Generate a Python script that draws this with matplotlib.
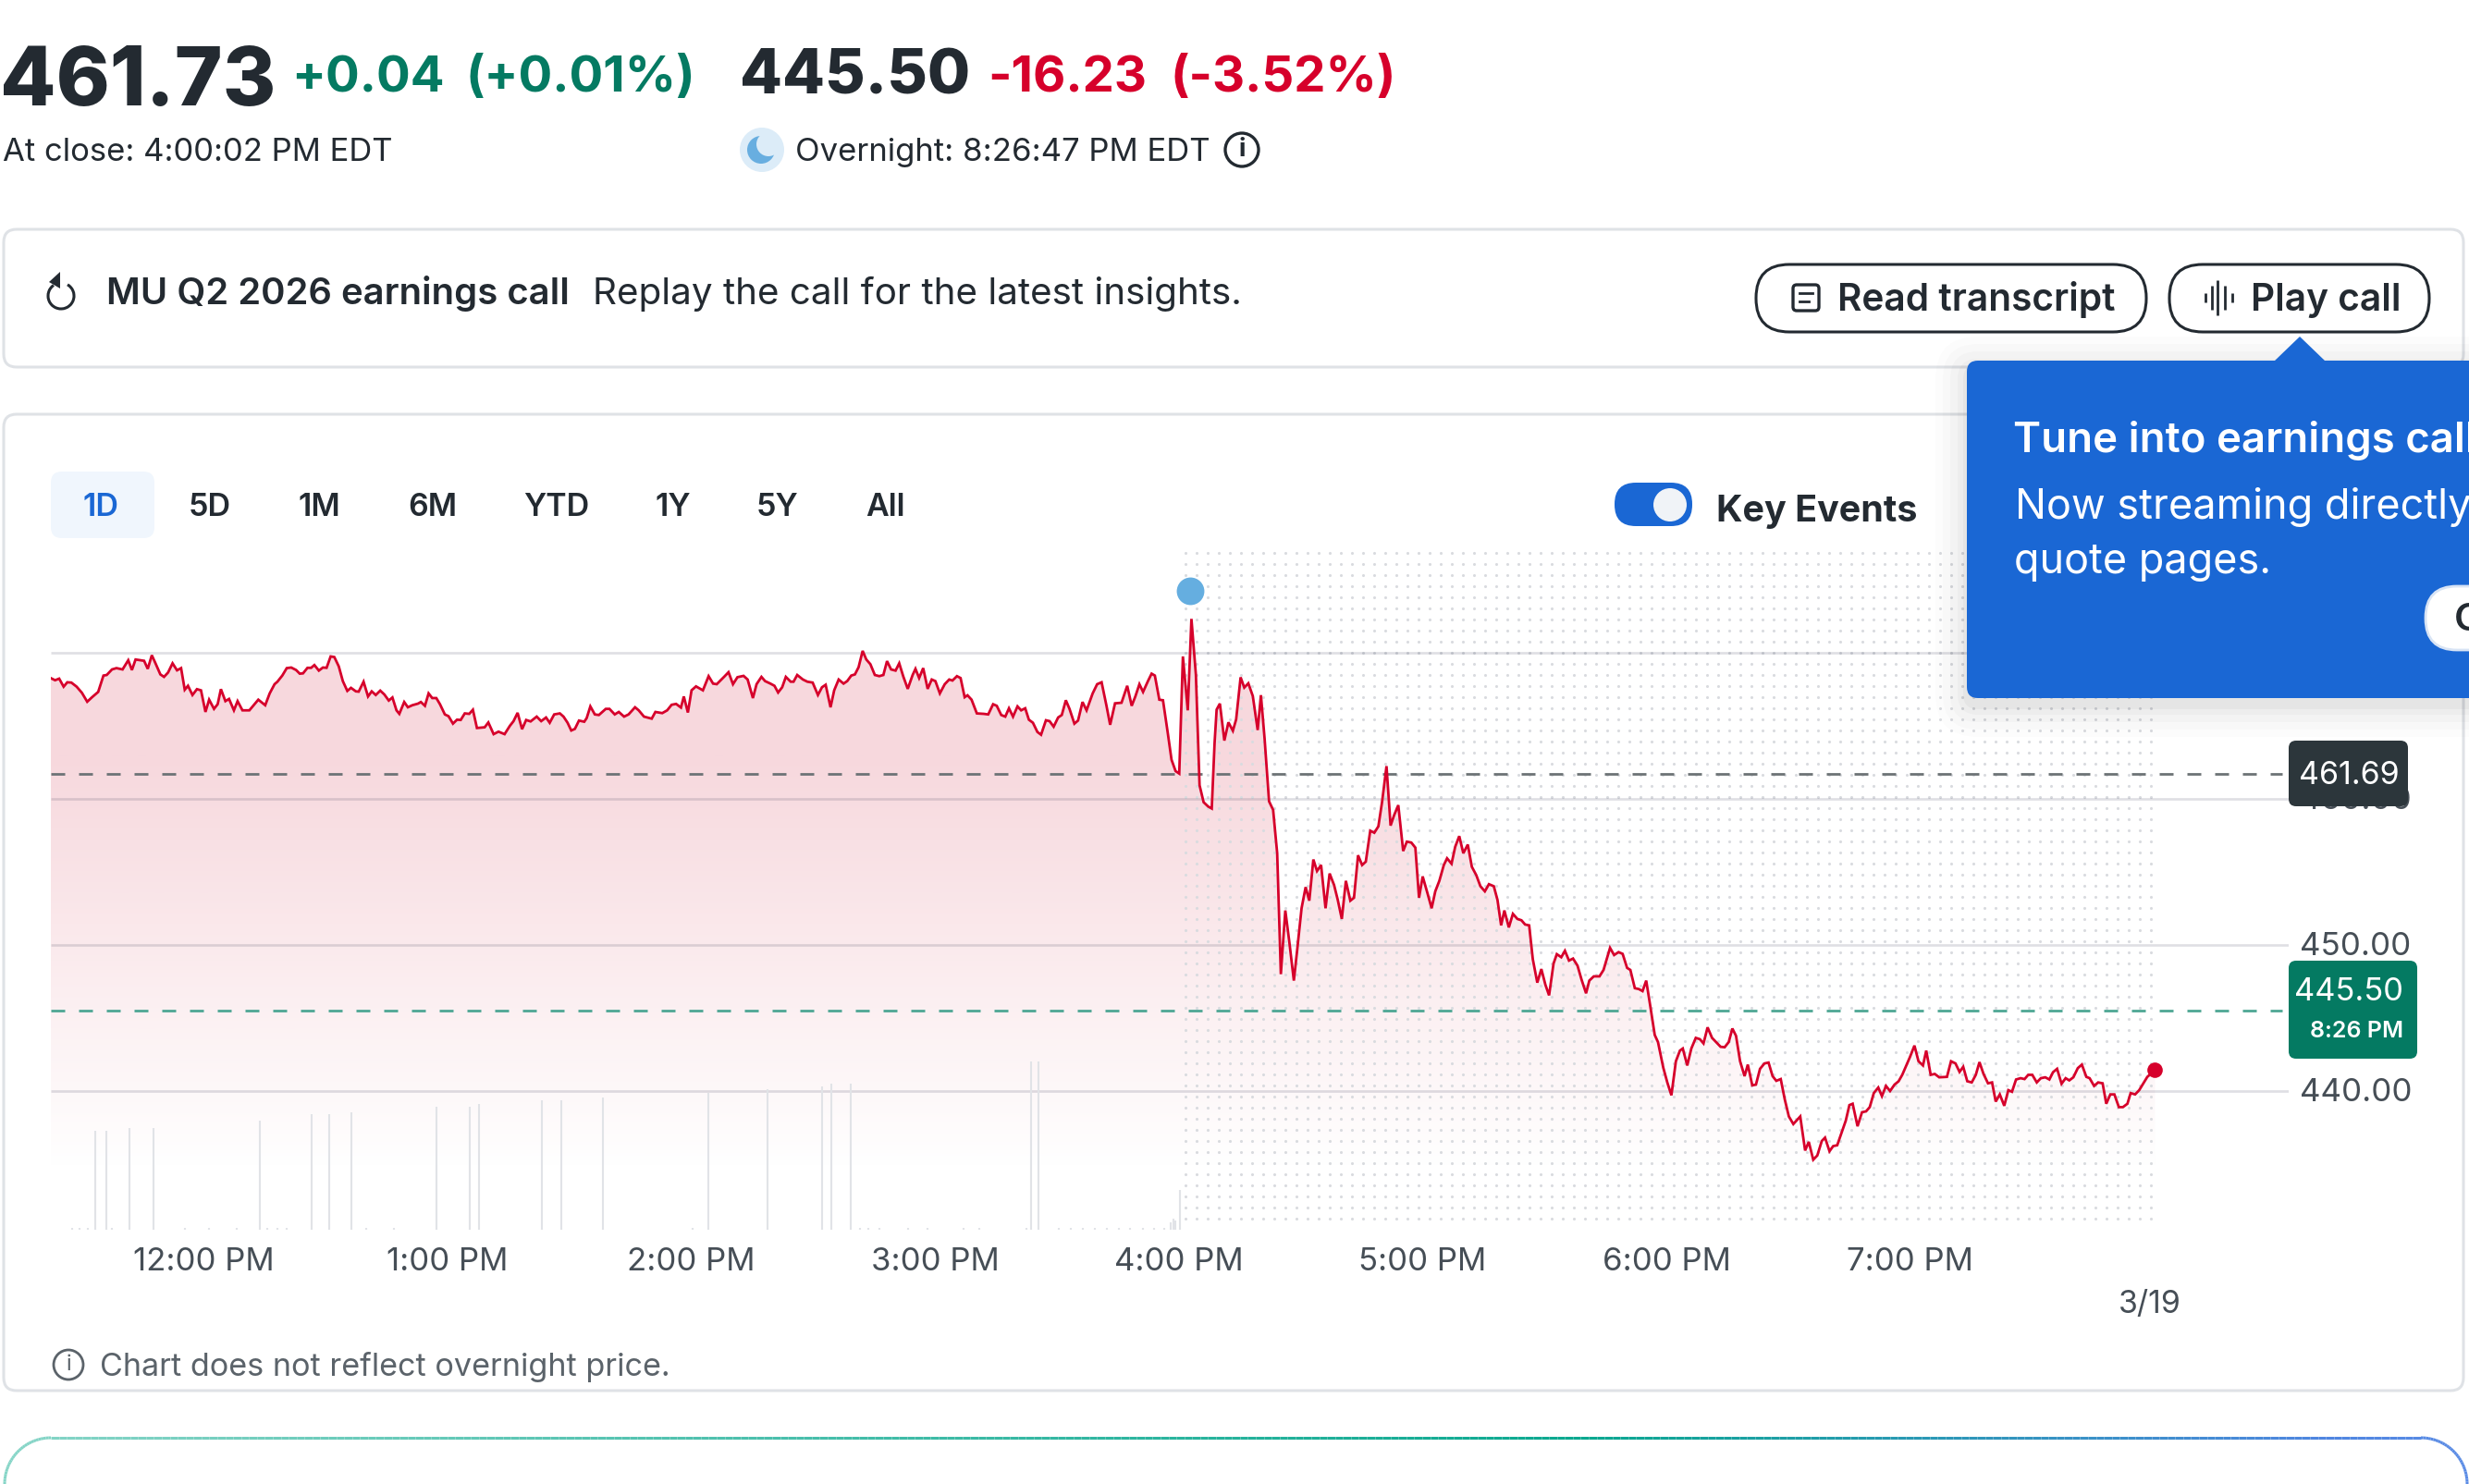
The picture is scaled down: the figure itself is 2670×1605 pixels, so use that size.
import numpy as np
import matplotlib
matplotlib.use('Agg')
import matplotlib.pyplot as plt
from matplotlib.patches import FancyBboxPatch, Circle, Polygon, Arc
from matplotlib.collections import LineCollection
from matplotlib.colors import LinearSegmentedColormap
from matplotlib.transforms import ScaledTranslation

plt.rcParams['font.family'] = ['Inter', 'DejaVu Sans']

W, H = 2670, 1605

# minutes after 12:00 PM, one trace for the regular and the after hours session
minutes = [
    -37.6, -36.5, -35.5, -34.4, -33.5, -32.5, -31.2, -29.9, -28.6, -27.4, -25.9, -24.6, -23.8, -22.5, -21.4, -19.9,
    -18.5, -17.6, -16.7, -14.6, -13.7, -12.7, -11.8, -10.6, -9.7, -8.7, -7.6, -6.5, -5.5, -4.6, -3.8, -2.7,
    -1.6, -0.6, 0.5, 1.4, 2.6, 3.5, 4.3, 5.4, 6.3, 7.5, 8.4, 9.6, 11.3, 13.5, 15.2, 16.3,
    17.5, 18.2, 19.4, 20.5, 21.6, 22.8, 23.7, 24.5, 25.6, 26.5, 27.3, 28.4, 29.4, 30.3, 31.3, 32.2,
    33.3, 34.3, 35.4, 36.3, 37.5, 38.2, 39.4, 40.5, 41.4, 42.4, 43.5, 44.5, 45.6, 46.5, 47.5, 48.2,
    49.4, 50.3, 51.4, 52.8, 53.5, 54.5, 55.4, 56.3, 57.3, 58.2, 59.4, 60.3, 61.4, 62.4, 63.3, 64.3,
    65.4, 66.3, 67.3, 69.2, 70.1, 71.4, 72.6, 74.1, 75.4, 76.3, 77.3, 78.4, 79.4, 80.5, 82.0, 83.1,
    84.3, 85.2, 86.3, 87.7, 88.6, 89.6, 90.5, 91.4, 92.4, 93.7, 94.3, 95.2, 96.3, 97.3, 99.0, 99.9,
    101.2, 102.2, 103.5, 104.6, 106.2, 107.1, 108.4, 110.3, 111.2, 112.9, 114.1, 115.2, 116.3, 117.5, 118.2, 119.2,
    120.1, 121.2, 122.9, 124.3, 125.4, 126.3, 128.2, 129.2, 130.3, 131.4, 132.9, 133.9, 135.2, 136.1, 137.3, 138.2,
    139.5, 140.5, 141.4, 142.4, 143.3, 144.5, 145.2, 146.1, 147.5, 148.6, 149.9, 151.2, 152.2, 153.1, 154.3, 155.2,
    156.3, 157.5, 158.4, 159.4, 160.3, 161.2, 162.2, 163.1, 164.1, 165.2, 166.3, 167.3, 168.2, 169.2, 170.3, 171.2,
    172.2, 173.3, 174.5, 175.2, 176.1, 177.1, 178.2, 179.2, 180.1, 181.2, 182.4, 183.5, 184.3, 185.4, 186.3, 187.3,
    188.0, 189.0, 190.3, 192.0, 193.1, 194.3, 195.2, 196.3, 197.3, 198.2, 199.2, 200.3, 201.2, 202.2, 203.1, 204.1,
    205.2, 206.1, 207.3, 208.2, 209.2, 210.3, 211.2, 212.2, 213.1, 214.3, 215.2, 216.3, 217.3, 218.8, 219.9, 221.0,
    222.2, 223.1, 224.3, 225.9, 227.3, 228.4, 229.3, 230.3, 231.2, 232.4, 233.3, 234.1, 235.2, 236.1, 237.3, 238.2,
    239.2, 240.1, 241.0, 242.2, 243.1,
    244.2, 245.1, 246.1, 247.2, 248.1, 248.8, 249.3, 250.1, 251.2, 252.2, 253.3, 254.1, 255.2, 256.1, 257.1, 258.2,
    259.4, 260.2, 261.1, 262.2, 263.2, 264.2, 265.1, 266.2, 267.2, 268.3, 269.1, 270.2, 271.2, 272.1, 273.1, 274.0,
    275.0, 276.1, 277.1, 278.2, 279.1, 280.1, 281.1, 282.2, 283.1, 284.1, 285.1, 286.0, 287.1, 288.1, 289.1, 290.0,
    291.1, 292.1, 293.0, 294.0, 295.2, 296.1, 297.2, 298.2, 299.1, 300.0, 301.2, 302.2, 303.1, 304.1, 305.2, 306.0,
    307.1, 308.0, 309.0, 310.0, 311.1, 312.1, 313.2, 314.2, 315.3, 316.3, 317.5, 318.4, 319.3, 320.1, 321.2, 322.2,
    323.3, 324.3, 325.2, 326.2, 327.1, 328.2, 329.2, 330.2, 331.1, 332.2, 333.0, 334.1, 335.0, 336.0, 337.0, 338.1,
    339.1, 340.2, 341.0, 342.1, 343.5, 344.5, 346.1, 347.1, 348.2, 349.2, 350.3, 351.1, 352.2, 353.2, 354.1, 355.0,
    356.0, 357.1, 357.9, 359.2, 360.2, 361.2, 362.3, 363.3, 364.0, 365.1, 366.1, 367.2, 368.2, 369.1, 370.1, 371.2,
    372.2, 373.3, 374.3, 375.3, 376.2, 377.1, 378.1, 379.2, 380.0, 381.1, 382.0, 383.0, 384.1, 385.1, 386.1, 387.0,
    388.1, 389.1, 390.1, 391.2, 392.9, 394.1, 395.0, 396.1, 397.1, 398.2, 399.0, 400.1, 401.0, 402.0, 403.0, 404.1,
    405.0, 405.8, 407.0, 408.1, 409.1, 410.0, 411.0, 412.1, 413.0, 414.0, 415.0, 416.1, 417.1, 418.0, 419.0, 419.9,
    421.0, 422.0, 423.1, 423.9, 425.0, 426.0, 427.1, 429.0, 430.0, 431.1, 432.1, 433.0, 434.0, 435.1, 436.1, 437.0,
    438.0, 439.1, 440.1, 441.0, 442.0, 443.1, 444.1, 445.0, 446.0, 447.1, 448.1, 449.0, 450.0, 451.1, 452.1, 453.2,
    454.2, 455.1, 456.1, 457.2, 458.2, 459.1, 460.1, 461.2, 462.2, 463.3, 464.1, 465.2, 466.2, 467.3, 468.2, 469.2,
    470.2, 471.3, 472.3, 473.4, 474.2, 475.3, 476.3, 478.3, 480.2,
]
prices = [
    468.27, 468.12, 468.23, 467.68, 467.98, 467.96, 467.68, 467.26, 466.65, 466.96, 467.32, 468.44, 468.48, 468.86, 468.95, 468.86,
    469.49, 468.82, 469.54, 469.45, 468.90, 469.83, 469.28, 468.52, 468.35, 468.65, 469.28, 468.80, 468.95, 467.47, 467.74, 467.11,
    467.51, 467.43, 465.95, 466.79, 466.16, 466.48, 467.51, 466.69, 466.84, 466.06, 466.69, 466.06, 466.06, 466.79, 466.41, 467.22,
    467.85, 468.02, 468.44, 468.95, 468.99, 468.82, 468.57, 468.59, 468.97, 468.97, 469.16, 468.78, 468.99, 468.97, 469.75, 469.71,
    469.07, 468.06, 467.39, 467.60, 467.36, 467.34, 468.02, 467.01, 467.36, 467.11, 467.41, 467.15, 466.73, 466.94, 466.06, 465.82,
    466.63, 466.27, 466.41, 466.52, 466.63, 466.37, 467.22, 466.90, 466.90, 466.48, 465.78, 465.66, 465.15, 465.42, 465.40, 465.85,
    465.82, 466.10, 464.85, 464.90, 465.23, 464.43, 464.60, 464.43, 465.00, 465.32, 465.89, 464.77, 465.40, 465.30, 465.63, 465.32,
    465.57, 465.21, 465.78, 465.85, 465.63, 465.21, 464.68, 464.79, 465.36, 465.28, 465.53, 466.33, 465.78, 465.74, 466.16, 466.16,
    465.78, 465.95, 465.63, 465.78, 466.27, 466.06, 465.63, 465.49, 465.95, 465.87, 466.06, 466.44, 466.50, 466.25, 467.01, 465.91,
    467.43, 467.70, 467.43, 468.40, 467.89, 467.85, 468.38, 468.67, 467.85, 468.33, 468.42, 468.17, 466.90, 467.85, 468.35, 468.06,
    467.89, 467.74, 467.28, 467.64, 468.35, 468.02, 468.02, 468.48, 468.17, 468.02, 467.96, 467.11, 467.64, 467.81, 466.27, 467.43,
    468.17, 467.89, 468.06, 468.44, 468.52, 469.01, 470.13, 469.54, 469.22, 468.48, 468.40, 468.48, 469.43, 468.86, 468.78, 469.28,
    468.38, 467.53, 468.48, 468.90, 468.27, 468.95, 467.53, 468.17, 468.06, 467.22, 467.85, 468.17, 468.10, 468.40, 468.27, 466.96,
    467.09, 466.79, 465.85, 465.82, 465.78, 466.48, 466.37, 465.74, 465.63, 466.20, 465.63, 466.33, 466.06, 466.20, 465.42, 465.21,
    464.58, 464.39, 465.38, 465.32, 464.94, 465.57, 465.74, 466.75, 466.16, 465.15, 465.36, 466.63, 466.06, 467.22, 467.85, 467.98,
    466.37, 465.07, 466.54, 466.58, 467.74, 466.37, 467.01, 467.85, 467.32, 468.06, 468.57, 468.44, 466.79, 466.75, 464.47, 462.68,
    461.90, 461.73, 469.75, 466.06, 472.32,
    468.49, 460.93, 459.77, 459.48, 459.34, 463.84, 466.11, 466.52, 463.99, 465.24, 464.66, 465.44, 468.32, 467.62, 467.91, 467.04,
    464.71, 467.10, 464.13, 459.83, 459.25, 456.28, 448.00, 452.36, 450.18, 447.56, 449.60, 452.51, 453.96, 453.03, 455.85, 455.06,
    455.47, 452.51, 454.89, 454.10, 453.09, 451.78, 454.39, 453.03, 453.23, 456.14, 455.47, 455.70, 457.82, 457.68, 458.12, 459.77,
    462.24, 458.17, 458.90, 459.57, 456.43, 457.07, 457.01, 456.66, 453.23, 454.69, 453.52, 452.51, 453.67, 454.39, 455.47, 455.93,
    455.56, 456.72, 457.45, 456.28, 456.87, 455.35, 454.77, 454.02, 453.67, 454.16, 454.02, 453.09, 451.34, 452.36, 451.20, 452.13,
    451.78, 451.69, 451.40, 451.34, 449.02, 447.42, 448.35, 447.27, 446.55, 448.73, 449.37, 449.16, 449.60, 448.93, 449.07, 448.58,
    447.62, 446.69, 447.56, 447.85, 447.85, 448.29, 449.80, 449.31, 449.51, 449.39, 448.43, 448.29, 447.04, 446.98, 446.84, 447.56,
    445.82, 443.84, 443.35, 441.60, 440.58, 439.71, 442.04, 442.77, 442.91, 441.75, 442.91, 443.64, 443.55, 443.26, 444.36, 443.64,
    443.35, 443.03, 443.00, 443.35, 444.28, 443.78, 442.04, 441.02, 441.81, 440.39, 440.44, 441.52, 441.89, 441.95, 441.02, 440.70,
    440.82, 439.42, 438.26, 437.74, 438.26, 435.93, 436.52, 435.30, 435.59, 436.58, 436.81, 435.88, 436.23, 436.29, 437.10, 437.97,
    439.04, 439.13, 437.59, 438.55, 438.61, 438.90, 439.86, 440.24, 439.65, 440.35, 440.00, 440.44, 440.67, 441.11, 441.75, 442.33,
    443.11, 442.04, 441.75, 442.77, 441.11, 441.17, 440.94, 440.97, 442.04, 441.89, 441.31, 441.66, 440.67, 440.59, 441.11, 441.98,
    441.17, 440.53, 440.59, 439.28, 439.77, 438.99, 440.06, 439.95, 440.79, 440.88, 440.82, 441.11, 441.11, 440.59, 440.88, 440.94,
    440.79, 441.29, 441.52, 440.50, 440.88, 440.73, 440.94, 441.57, 441.81, 440.97, 440.88, 440.35, 440.59, 440.53, 439.13, 439.77,
    439.77, 438.90, 438.90, 439.13, 439.86, 439.77, 440.06, 440.97, 441.43,
]

vol_minutes = [-32.4, -30.5, -28.5, -26.6, -23.8, -22.6, -18.3, -12.2, -4.6, 1.3, 8.1, 13.8, 15.6, 18.1, 20.5, 26.7, 30.9,
               36.3, 40.1, 46.9, 57.3, 65.5, 67.7, 83.3, 88.1, 98.4, 120.4, 124.3, 138.8, 152.3, 154.5, 159.2, 161.5,
               163.5, 166.4, 173.3, 178.2, 187.0, 190.9, 202.6, 203.6, 205.5, 210.5, 213.4, 216.4, 219.3, 222.2, 225.2,
               228.1, 231.1, 234.0, 236.4, 237.9, 238.7, 239.1, 240.3]
vol_sizes = [2, 2, 2, 107, 107, 2, 110, 110, 2, 2, 2, 118, 2, 2, 2, 125, 125,
             127, 2, 2, 133, 133, 136, 140, 140, 143, 2, 148, 152, 155, 158, 158, 2,
             2, 2, 2, 2, 2, 2, 2, 182, 182, 2, 2, 2, 2, 2, 2,
             2, 2, 2, 2, 8, 12, 10, 43]

tick_minutes = [0, 60, 120, 180, 240, 300, 360, 420]
tick_labels = ['12:00 PM', '1:00 PM', '2:00 PM', '3:00 PM', '4:00 PM', '5:00 PM', '6:00 PM', '7:00 PM']
grid_prices = [440, 450, 460, 470]
grid_labels = ['440.00', '450.00', '460.00', '470.00']
prev_close = 461.69
overnight = 445.50
event_point = (242.8, 474.24)
periods = ['1D', '5D', '1M', '6M', 'YTD', '1Y', '5Y', 'All']
period_x = [109, 227, 345, 468, 602, 728, 841, 957]

RED = '#d6002b'
GREEN = '#047a62'
DARK = '#232a31'
GREY = '#464e56'
BLUE = '#1a67d4'


def rect_axes(left, top, right, bottom):
    return [left / W, 1 - bottom / H, (right - left) / W, (bottom - top) / H]


fig = plt.figure(figsize=(W / 100, H / 100), dpi=100, facecolor='white')

# price chart, 263.7 px per hour and 15.8 px per dollar
ax = fig.add_axes(rect_axes(55, 590, 2475, 1330))
ax.set_facecolor('none')
x0, x1 = (55 - 220) * 60 / 263.7, (2475 - 220) * 60 / 263.7
y0, y1 = 440 - 150 / 15.8, 440 + 590 / 15.8

fade = LinearSegmentedColormap.from_list('fade', ['#ffffff', '#f7d8dd'], N=256)
shade = np.linspace(1, 0, 400).reshape(-1, 1)
poly = ax.fill_between(minutes, prices, y0, color='none')
im = ax.imshow(shade, cmap=fade, vmin=0, vmax=1, aspect='auto', extent=(x0, x1, 434.8, 463), zorder=1)
grad_top = ax.imshow([[1]], cmap=fade, vmin=0, vmax=1, aspect='auto', extent=(x0, x1, 463, y1), zorder=1)
for g in (im, grad_top):
    g.set_clip_path(poly.get_paths()[0], transform=ax.transData)

# after hours dot pattern
dot_x = np.arange(1282.3, 2328, 12.0)
dot_y = np.arange(598.3, 1329, 12.0)
gx, gy = np.meshgrid((dot_x - 220) * 60 / 263.7, 440 + (1180 - dot_y) / 15.8)
ax.scatter(gx.ravel(), gy.ravel(), s=5, color='#d9dbdf', linewidths=0, zorder=2)

ax.hlines(grid_prices, x0, x1, color='#1d2040', alpha=0.14, lw=1.9, zorder=3)
ax.axhline(prev_close, xmax=0.997, color='#6d7376', lw=2.0, ls=(0, (5.4, 5.4)), zorder=4)
ax.axhline(overnight, xmax=0.997, color='#4ea794', lw=2.0, ls=(0, (5.4, 5.4)), zorder=4)
ax.plot(minutes, prices, color=RED, lw=2.0, solid_joinstyle='miter', zorder=5)
ax.plot(minutes[-1], prices[-1], 'o', color=RED, ms=12, mew=0, zorder=6)
ax.plot(event_point[0], event_point[1], 'o', color='#65aee0', ms=21.5, mew=0, zorder=6)

ax.set_xlim(x0, x1)
ax.set_ylim(y0, y1)

# volume bars on their own scale
vol = ax.twinx()
vol.set_ylim(0, 740)
vol.vlines(vol_minutes, 0, vol_sizes, color='#e1e3e7', lw=1.5)
vol.set_yticks([])
vol.set_facecolor('none')
for s in vol.spines.values():
    s.set_visible(False)

ax.set_xticks(tick_minutes, tick_labels)
ax.set_yticks(grid_prices, grid_labels)
ax.yaxis.tick_right()
ax.tick_params(axis='x', length=0, pad=13.5, labelsize=25, labelcolor=GREY)
ax.tick_params(axis='y', length=0, pad=8.5, labelsize=25.2, labelcolor=GREY)
for lab in ax.get_yticklabels():
    lab.set_transform(lab.get_transform() + ScaledTranslation(0, 1 / 72, fig.dpi_scale_trans))
for s in ax.spines.values():
    s.set_visible(False)

# page furniture, pixel coordinates
ui = fig.add_axes([0, 0, 1, 1], facecolor='none')
ui.set_xlim(0, W)
ui.set_ylim(H, 0)
ui.axis('off')


def put(x, y, s, px, color=DARK, weight='normal', ha='left', **kw):
    return ui.text(x, y, s, fontsize=px * 0.72, color=color, fontweight=weight, ha=ha, va='baseline', **kw)


def box(l, t, r, b, radius, fc='none', ec='none', lw=0, **kw):
    p = FancyBboxPatch((l, t), r - l, b - t, boxstyle=f'round,pad=0,rounding_size={radius}',
                       fc=fc, ec=ec, lw=lw, **kw)
    ui.add_patch(p)
    return p


put(0, 114, '461.73', 88, weight='heavy')
put(315, 99, '+0.04', 54.5, GREEN, 'bold')
put(503, 99, '(+0.01%)', 54.5, GREEN, 'bold')
put(800, 102, '445.50', 67, weight='heavy')
put(1068, 99, '-16.23', 54.5, RED, 'bold')
put(1265, 99, '(-3.52%)', 54.5, RED, 'bold')
put(3, 174, 'At close: 4:00:02 PM EDT', 34.6)
ui.add_patch(Circle((824, 162), 24, fc='#dcecf8', ec='none'))
ui.add_patch(Circle((823, 162), 15, fc='#68aee0', ec='none'))
ui.add_patch(Circle((831, 156), 13, fc='#dcecf8', ec='none'))
put(860, 174, 'Overnight: 8:26:47 PM EDT', 34.7)
ui.add_patch(Circle((1343, 162), 18, fc='white', ec=DARK, lw=2.4))
ui.text(1343, 162, 'i', fontsize=20, color=DARK, fontweight='bold', ha='center', va='center')

box(4, 248, 2664, 397, 14, ec='#dfe2e6', lw=2.2)
box(4, 448, 2664, 1504, 14, ec='#dfe2e6', lw=2.2)

# replay icon
ui.add_patch(Arc((66, 320), 28, 28, theta1=-60, theta2=235, color=DARK, lw=2.2))
ui.add_patch(Polygon([(65, 294), (65, 312), (53, 305)], fc=DARK, ec='none'))
put(115, 329, 'MU Q2 2026 earnings call', 40, weight='semibold')
put(641, 329, 'Replay the call for the latest insights.', 40.4)

box(1899, 286, 2321, 359, 36, fc='white', ec=DARK, lw=2.2)
box(2346, 286, 2627, 359, 36, fc='white', ec=DARK, lw=2.2)
box(1939, 308, 1967, 336, 4, ec=DARK, lw=2.4)
ui.plot([1946, 1960], [317, 317], color=DARK, lw=2)
ui.plot([1946, 1956], [326, 326], color=DARK, lw=2)
put(1987, 336, 'Read transcript', 40.6, weight='semibold')
ui.vlines([2385, 2392, 2398, 2406, 2414], [317, 309, 303, 309, 317], [327, 335, 341, 335, 327], color=DARK, lw=2)
put(2434, 336, 'Play call', 40.6, weight='semibold')

box(55, 510, 167, 582, 12, fc='#f0f6fd')
for p, px_x in zip(periods, period_x):
    put(px_x, 558, p, 34, BLUE if p == '1D' else DARK, 'semibold', ha='center')

box(1746, 522, 1830, 569, 23, fc=BLUE)
ui.add_patch(Circle((1806, 546), 18, fc='#f0f3f7', ec='none'))
put(1856, 564, 'Key Events', 39.5, weight='bold')

put(2325, 1420, '3/19', 34, GREY, ha='center')
ui.add_patch(Circle((74, 1476), 16, fc='none', ec='#5b636a', lw=2.0))
ui.text(74, 1476, 'i', fontsize=17, color='#5b636a', ha='center', va='center')
put(108, 1488, 'Chart does not reflect overnight price.', 34.2, '#5b636a')

# price tags
box(2475, 801, 2604, 872, 8, fc='#2c363b')
ui.text(2540, 839, '461.69', fontsize=24.5, color='white', ha='center', va='center')
box(2475, 1039, 2614, 1145, 8, fc=GREEN)
put(2599, 1082, '445.50', 34.5, 'white', ha='right')
put(2599, 1122, '8:26 PM', 25, 'white', 'semibold', ha='right')

# popup with a soft shadow
for grow, a in zip([34, 26, 18, 10, 4], [0.012, 0.016, 0.02, 0.024, 0.03]):
    box(2127 - grow, 390 - grow + 8, 2720, 755 + grow + 8, 12 + grow, fc='black', alpha=a)
ui.add_patch(Polygon([(2459, 391), (2487, 364), (2515, 391)], fc=BLUE, ec='none'))
box(2127, 390, 2720, 755, 12, fc=BLUE)
clip = {'clip_on': True}
put(2177, 489, 'Tune into earnings call', 45.5, 'white', 'semibold', **clip)
put(2179, 561, 'Now streaming directly', 45, 'white', **clip)
put(2178, 620, 'quote pages.', 45, 'white', **clip)
box(2623, 634, 2760, 703, 34, fc='white', ec='#d8e4f5', lw=2, clip_on=True)
put(2654, 682, 'G', 42, DARK, 'semibold', **clip)

# teal to blue card edge at the bottom
t = np.linspace(np.pi, 1.5 * np.pi, 30)
left_x, left_y = 55 + 50 * np.cos(t), 1605 + 50 * np.sin(t)
t2 = np.linspace(1.5 * np.pi, 2 * np.pi, 30)
right_x, right_y = 2618 + 50 * np.cos(t2), 1605 + 50 * np.sin(t2)
edge_x = np.r_[left_x, np.linspace(55, 2618, 300), right_x]
edge_y = np.r_[left_y, np.full(300, 1555), right_y]
segs = np.stack([np.c_[edge_x[:-1], edge_y[:-1]], np.c_[edge_x[1:], edge_y[1:]]], axis=1)
edge_cmap = LinearSegmentedColormap.from_list('edge', [(0, '#86d5c7'), (0.64, '#0aa88f'), (0.94, '#4f86e0'), (1, '#5a8be5')])
lc = LineCollection(segs, cmap=edge_cmap, linewidths=2.2)
lc.set_array(edge_x[:-1] / W)
lc.set_clim(0, 1)
ui.add_collection(lc)

fig.savefig('out.png', dpi=100)
